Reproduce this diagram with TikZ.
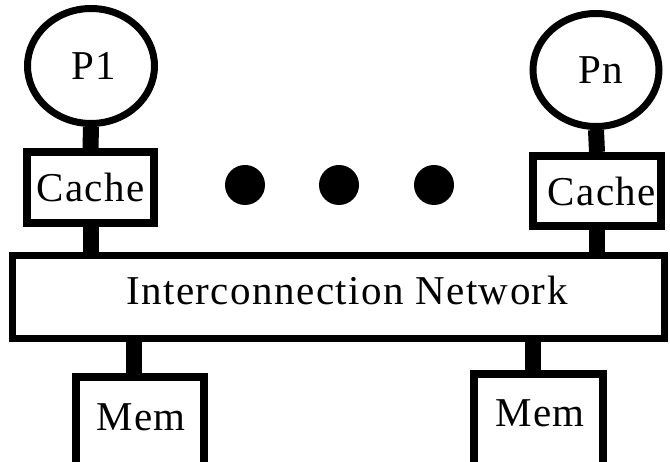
\documentclass[tikz,border=0pt]{standalone}
\usepackage{fontspec}
\setmainfont[LetterSpace=3.5]{Liberation Serif}
\usetikzlibrary{shapes.geometric}

\begin{document}
\begin{tikzpicture}[x=1pt, y=-1pt,
    procnode/.style={ellipse, draw=black, line width=7pt, inner sep=0pt},
    squarednode/.style={rectangle, draw=black, line width=8pt, inner sep=0pt},
    busnode/.style={rectangle, draw=black, line width=7pt, inner sep=0pt},
    dotnode/.style={circle, fill=black, minimum size=40pt, inner sep=0pt},
    stem/.style={line width=16pt}]

  \useasboundingbox (0,0) rectangle (670,462);
  \fontsize{41}{48}\selectfont

  % Define nodes
  \node[procnode, minimum width=127pt, minimum height=115pt] (P1) at (91,66) {\hspace{6pt}P1};
  \node[procnode, minimum width=126pt, minimum height=113pt] (Pn) at (596,70) {\hspace{10pt}Pn};

  \node[squarednode, minimum width=127pt, minimum height=71pt] (cache1) at (90.5,187.5) {Cache};
  \node[squarednode, minimum width=128pt, minimum height=70pt] (cachen) at (597,191) {\hspace{10pt}Cache};

  \node[dotnode] (dot1) at (245,185) {};
  \node[dotnode] (dot2) at (339,185) {};
  \node[dotnode] (dot3) at (434,185) {};

  \node[busnode, minimum width=652pt, minimum height=83pt] (net) at (338.5,297) {};
  \node (netlabel) at (347,290) {Interconnection Network};

  \node[squarednode, minimum width=128pt, minimum height=93pt] (mem1) at (140,423.5) {};
  \node (mem1label) at (141,417) {Mem};
  \node[squarednode, minimum width=129pt, minimum height=96pt] (memn) at (538.5,422) {};
  \node (memnlabel) at (540,413) {Mem};

  % Links
  \draw[stem] (P1.south) -- (cache1.north);
  \draw[stem] (Pn.south) -- (cachen.north);
  \draw[stem] (cache1.south) -- (cache1.south |- net.north);
  \draw[stem] (cachen.south) -- (cachen.south |- net.north);
  \draw[stem] ([xshift=-6pt]mem1.north) -- ([xshift=-6pt]mem1.north |- net.south);
  \draw[stem] ([xshift=-6pt]memn.north) -- ([xshift=-6pt]memn.north |- net.south);

\end{tikzpicture}
\end{document}
